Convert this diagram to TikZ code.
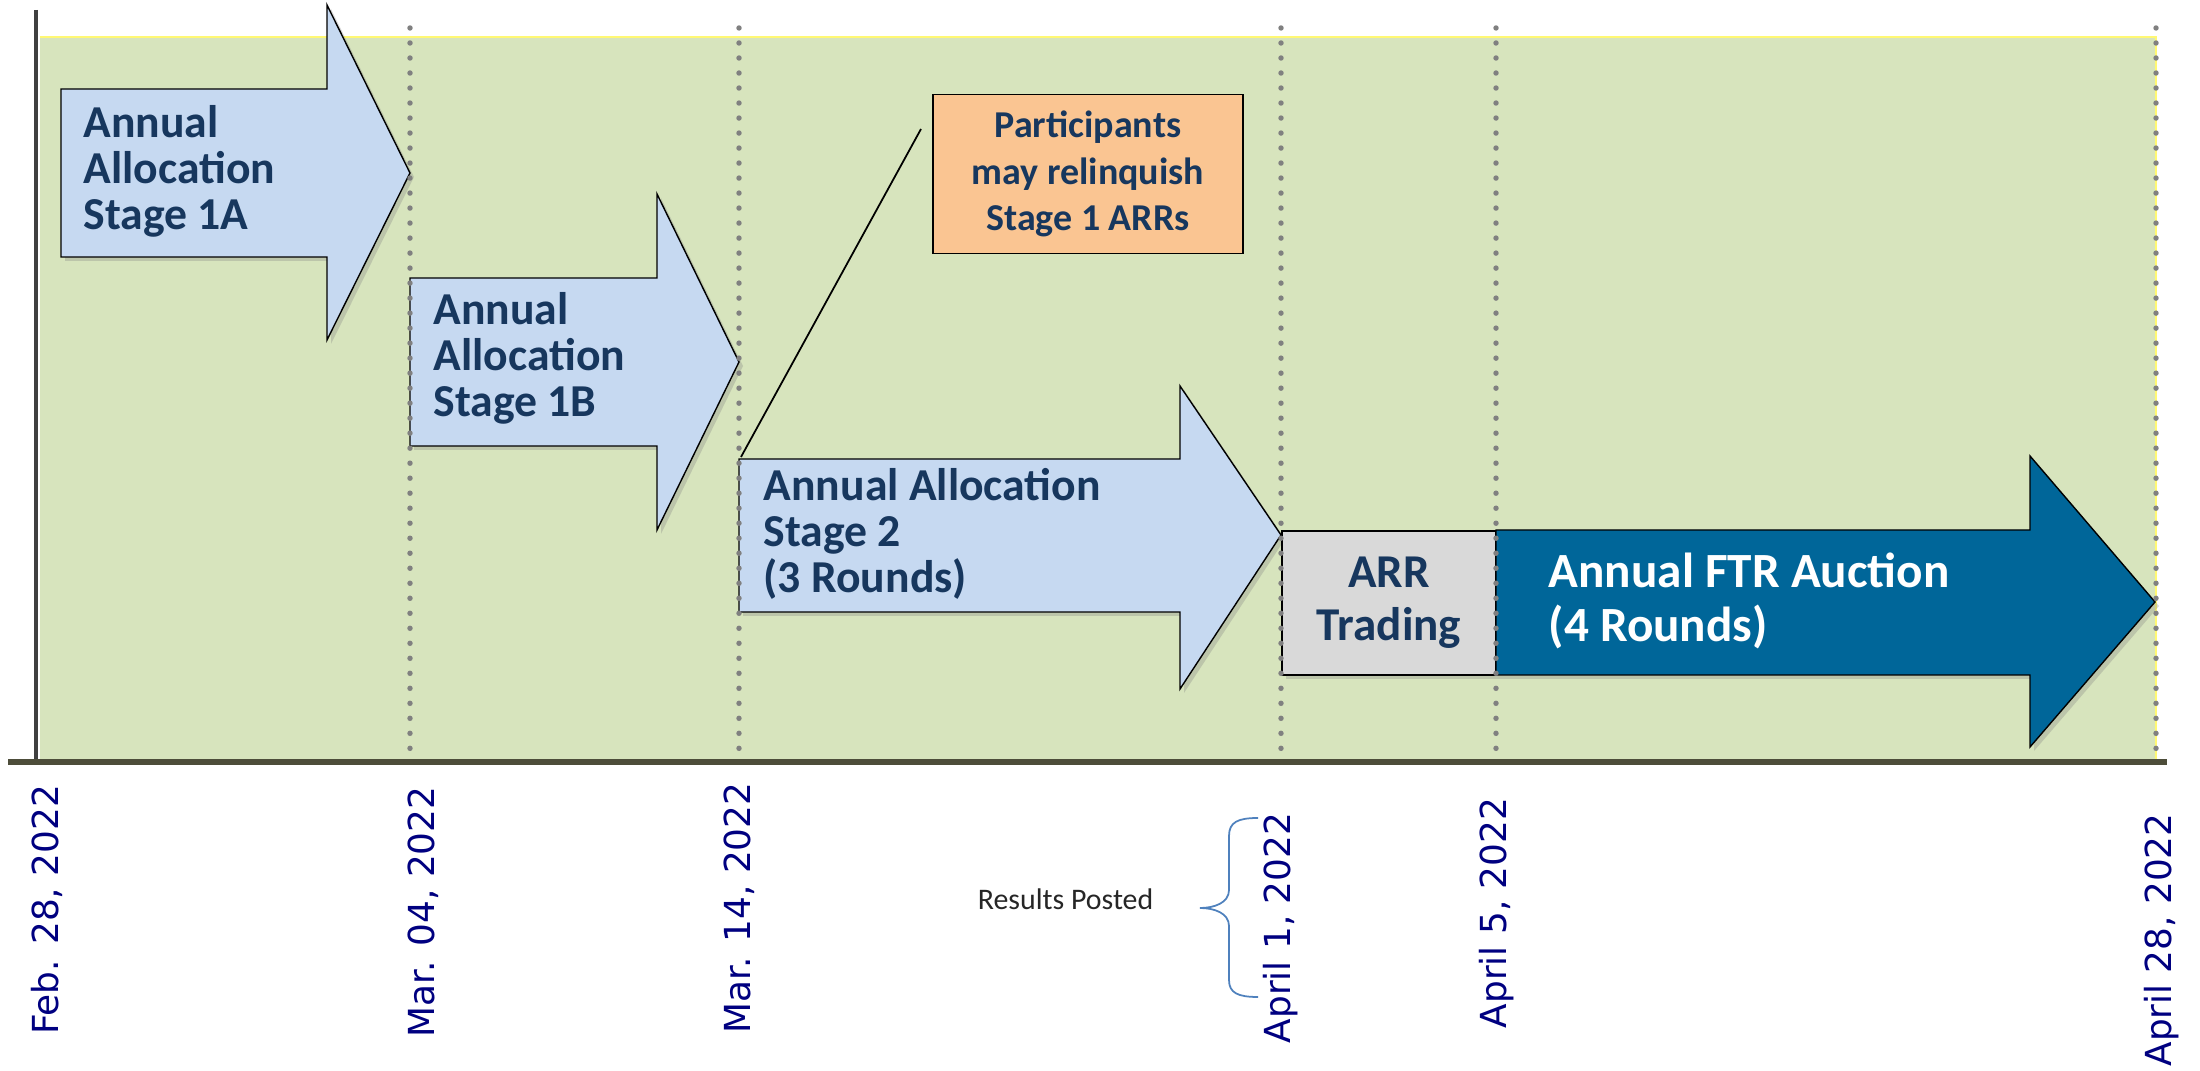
\documentclass[tikz,border=0pt]{standalone}
\usepackage{fontspec}
\setmainfont{Carlito}
\newfontfamily\datefont{DejaVu Sans}
\usepackage{tikz}
\usetikzlibrary{positioning}
\usetikzlibrary{shadows}
\definecolor{bggreen}{HTML}{D7E4BD}
\definecolor{stageblue}{HTML}{C6D9F1}
\definecolor{navytext}{HTML}{17375E}
\definecolor{relorange}{HTML}{FAC592}
\definecolor{arrgray}{HTML}{D9D9D9}
\definecolor{ftrblue}{HTML}{006699}
\definecolor{datenavy}{HTML}{000080}
\definecolor{bracecol}{HTML}{4F81BD}
\definecolor{dotgray}{HTML}{808080}
\definecolor{axiscol}{HTML}{4D4D3A}
\tikzstyle{stage_a} = [draw=black, line width=0.4pt, drop shadow={opacity=0.3, shadow xshift=0.4mm, shadow yshift=-0.4mm}]
\tikzstyle{stage_t} = [anchor=base west, align=left, inner sep=0pt, text=navytext, font=\bfseries\fontsize{13pt}{13.1pt}\selectfont]
\tikzstyle{date_t} = [rotate=90, inner sep=0pt, text=datenavy, font=\datefont\fontsize{10.2pt}{12pt}\selectfont]
\tikzstyle{tl_dot} = [dotgray, line width=1.55pt, dash pattern=on 0pt off 4.27pt, line cap=round]

\begin{document}
\begin{tikzpicture}[x=0.1mm,y=-0.1mm]
\useasboundingbox (0,0) rectangle (2200,1071);
% background and time axis
\fill[bggreen] (40,37) rectangle (2156,760);
\draw[yellow!55, line width=0.4pt] (40,37) -- (2156,37) -- (2156,760);
\draw[black!75, line width=1.2pt] (36,10) -- (36,762);

% allocation stages (text anchored at last baseline)
\path[stage_a, fill=stageblue] (61,89) -- (327,89) -- (327,5) -- (410,173) -- (327,340) -- (327,257) -- (61,257) -- cycle;
\node[stage_t] (s1a) at (83,230) {Annual\\Allocation\\Stage 1A};
\path[stage_a, fill=stageblue] (410,278) -- (657,278) -- (657,194) -- (739,362) -- (657,530) -- (657,446) -- (410,446) -- cycle;
\node[stage_t] (s1b) at (433,417) {Annual\\Allocation\\Stage 1B};
\path[stage_a, fill=stageblue] (739,459) -- (1180,459) -- (1180,386) -- (1281,535) -- (1180,689) -- (1180,612) -- (739,612) -- cycle;
\node[stage_t] (s2) at (763,593) {Annual Allocation\\Stage 2\\(3 Rounds)};
\coordinate (s2_corner) at (741,457);

% relinquish note
\node[draw=black, line width=0.5pt, fill=relorange, minimum width=31mm, minimum height=15.9mm, align=center, inner sep=0pt, text=navytext, font=\bfseries\fontsize{10.8pt}{13.2pt}\selectfont] (relinquish) at (1088,174) {Participants\\may relinquish\\Stage 1 ARRs};
\coordinate (callout_end) at (921,129);
\draw[black, line width=0.5pt] (s2_corner) -- (callout_end);

% trading and auction
\node[stage_a, fill=arrgray, minimum width=21.4mm, minimum height=14.4mm, align=center, inner sep=0pt, text=navytext, font=\bfseries\fontsize{13.4pt}{15.1pt}\selectfont] (arr) at (1389,603) {ARR\\Trading};
\path[stage_a, fill=ftrblue] (1496,530) -- (2030,530) -- (2030,456) -- (2155,602) -- (2030,747) -- (2030,675) -- (1496,675) -- cycle;
\node[stage_t, text=white, font=\bfseries\fontsize{14pt}{15.4pt}\selectfont] (ftr) at (1548,642) {Annual FTR Auction\\(4 Rounds)};

% date markers
\foreach \x in {410,739,1281,1496,2156}
  \draw[tl_dot] (\x,28) -- (\x,756);
\draw[axiscol, line width=1.7pt] (8,762) -- (2167,762);

\node[date_t] (d_feb28) at (47,910) {Feb. 28, 2022};
\node[date_t] (d_mar04) at (423,912) {Mar. 04, 2022};
\node[date_t] (d_mar14) at (739,908) {Mar. 14, 2022};
\node[date_t] (d_apr01) at (1281,928) {April 1, 2022};
\node[date_t] (d_apr05) at (1497,913) {April 5, 2022};
\node[date_t] (d_apr28) at (2162,940) {April 28, 2022};

% results posted
\coordinate (brace_top) at (1258,818);
\coordinate (brace_tip) at (1200,908);
\coordinate (brace_bot) at (1258,997);
\draw[bracecol, line width=0.5pt] (brace_top) .. controls (1238,818) and (1229,822) .. (1229,836) -- (1229,890)
  .. controls (1229,903) and (1214,908) .. (brace_tip) .. controls (1214,908) and (1229,913) .. (1229,926) -- (1229,980)
  .. controls (1229,993) and (1238,997) .. (brace_bot);
\node[anchor=base east, inner sep=0pt, text=black!85, font=\fontsize{8.5pt}{10pt}\selectfont] (posted) at (1154,910) {Results Posted};
\end{tikzpicture}
\end{document}
